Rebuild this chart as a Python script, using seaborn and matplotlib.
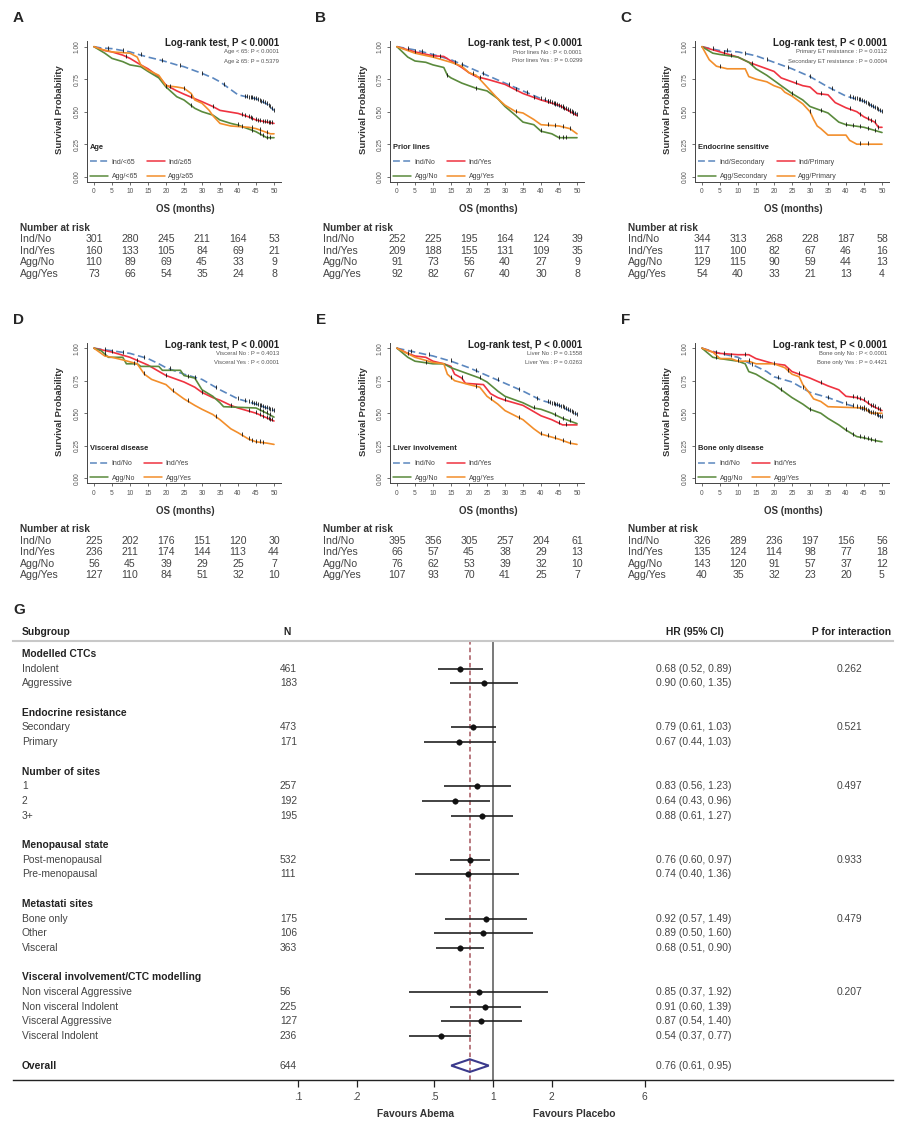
import numpy as np
import matplotlib.pyplot as plt
import seaborn as sns
from matplotlib.lines import Line2D
from matplotlib.patches import Polygon
from matplotlib.transforms import blended_transform_factory

# ---------------- KM curves (months, survival) ----------------
km_A = {
    "Ind/<65": ([0, 2, 5, 8, 10, 13, 15, 18, 20, 23, 25, 28, 30, 33, 35, 38, 40, 43, 45, 48, 50],
                [1, .99, .985, .97, .96, .935, .92, .90, .885, .86, .846, .815, .795, .76, .73, .67, .63, .61, .60, .56, .51]),
    "Ind/≥65": ([0, 3, 5, 8, 10, 13, 15, 18, 20, 23, 25, 28, 30, 33, 35, 40, 43, 45, 50],
                [1, .97, .96, .935, .91, .86, .83, .77, .705, .66, .635, .60, .577, .54, .51, .487, .46, .436, .41]),
    "Agg/<65": ([0, 3, 5, 8, 10, 13, 15, 18, 20, 23, 25, 28, 30, 33, 35, 38, 40, 45, 48, 50],
                [1, .95, .91, .885, .86, .846, .81, .76, .69, .615, .59, .526, .50, .474, .436, .41, .397, .346, .30, .30]),
    "Agg/≥65": ([0, 2, 5, 10, 12, 13, 15, 18, 20, 23, 25, 27, 28, 30, 32, 33, 35, 38, 43, 45, 49, 50],
                [1, .98, .96, .95, .92, .86, .82, .78, .70, .69, .68, .64, .59, .565, .51, .47, .41, .39, .38, .37, .33, .33]),
}
km_B = {
    "Ind/No": ([0, 5, 10, 15, 20, 25, 30, 35, 40, 45, 50],
               [1, .975, .94, .90, .84, .78, .72, .66, .60, .545, .48]),
    "Ind/Yes": ([0, 5, 10, 13, 15, 18, 20, 22, 25, 30, 35, 40, 45, 50],
                [1, .96, .93, .925, .89, .84, .80, .77, .75, .71, .64, .59, .55, .47]),
    "Agg/No": ([0, 3, 5, 8, 10, 13, 14, 15, 18, 20, 22, 25, 28, 30, 33, 35, 38, 40, 43, 45, 50],
               [1, .92, .89, .88, .86, .84, .78, .76, .72, .70, .68, .66, .60, .54, .47, .42, .40, .35, .33, .30, .30]),
    "Agg/Yes": ([0, 5, 10, 15, 18, 20, 22, 24, 26, 28, 30, 33, 35, 38, 40, 45, 48, 50],
                [1, .95, .92, .88, .85, .80, .78, .72, .66, .60, .55, .50, .49, .44, .40, .39, .37, .33]),
}
km_C = {
    "Ind/Secondary": ([0, 5, 10, 15, 20, 25, 30, 35, 40, 45, 50],
                      [1, .97, .96, .93, .88, .83, .77, .69, .62, .58, .50]),
    "Ind/Primary": ([0, 5, 10, 13, 15, 18, 20, 22, 25, 28, 30, 32, 35, 37, 40, 43, 45, 48, 49, 50],
                    [1, .96, .92, .88, .86, .83, .81, .76, .73, .70, .69, .64, .63, .57, .53, .50, .46, .42, .38, .38]),
    "Agg/Secondary": ([0, 3, 5, 10, 13, 15, 18, 20, 22, 25, 28, 30, 33, 35, 38, 40, 45, 50],
                      [1, .95, .94, .92, .88, .83, .78, .74, .70, .64, .59, .54, .51, .49, .42, .40, .38, .34]),
    "Agg/Primary": ([0, 2, 4, 7, 12, 13, 15, 18, 20, 22, 23, 25, 28, 30, 31, 32, 33, 35, 40, 41, 43, 50],
                    [1, .90, .85, .83, .83, .77, .75, .73, .70, .68, .65, .62, .56, .50, .44, .39, .37, .32, .32, .28, .25, .25]),
}
km_D = {
    "Ind/No": ([0, 5, 10, 15, 18, 20, 25, 30, 35, 40, 45, 50],
               [1, .98, .96, .92, .88, .85, .80, .76, .68, .61, .57, .52]),
    "Ind/Yes": ([0, 5, 10, 15, 20, 25, 28, 30, 33, 35, 38, 40, 45, 50],
                [1, .97, .93, .87, .79, .74, .70, .66, .62, .60, .56, .54, .50, .44]),
    "Agg/No": ([0, 2, 4, 8, 9, 12, 13, 18, 19, 24, 25, 28, 30, 33, 35, 36, 45, 48, 50],
               [1, .98, .93, .93, .88, .88, .86, .86, .83, .83, .79, .77, .68, .63, .58, .55, .54, .50, .47]),
    "Agg/Yes": ([0, 3, 5, 8, 12, 14, 16, 20, 22, 25, 28, 30, 33, 35, 38, 40, 43, 45, 48, 50],
                [1, .94, .93, .91, .88, .80, .76, .72, .67, .61, .56, .53, .49, .45, .38, .35, .30, .28, .27, .26]),
}
km_E = {
    "Ind/No": ([0, 5, 10, 15, 20, 25, 30, 35, 40, 45, 50],
               [1, .97, .94, .90, .85, .79, .73, .67, .60, .56, .49]),
    "Ind/Yes": ([0, 3, 5, 8, 10, 13, 15, 16, 18, 19, 24, 26, 28, 30, 35, 40, 43, 46, 50],
                [1, .96, .94, .93, .90, .88, .86, .80, .77, .73, .72, .65, .62, .60, .56, .48, .45, .41, .41]),
    "Agg/No": ([0, 3, 5, 10, 13, 15, 20, 23, 25, 28, 30, 35, 38, 40, 43, 46, 50],
               [1, .93, .90, .88, .88, .85, .80, .77, .74, .67, .63, .58, .54, .53, .50, .46, .42]),
    "Agg/Yes": ([0, 5, 10, 13, 14, 16, 20, 23, 25, 28, 30, 35, 38, 40, 45, 48, 50],
                [1, .93, .89, .88, .80, .75, .72, .70, .63, .57, .52, .45, .38, .34, .30, .27, .26]),
}
km_F = {
    "Ind/No": ([0, 5, 10, 12, 15, 18, 20, 25, 30, 35, 40, 45, 50],
               [1, .96, .93, .90, .86, .82, .78, .74, .66, .62, .57, .53, .47]),
    "Ind/Yes": ([0, 3, 5, 10, 13, 15, 20, 23, 25, 30, 35, 38, 40, 43, 45, 47, 50],
                [1, .97, .96, .95, .95, .92, .88, .87, .82, .77, .71, .68, .63, .62, .60, .56, .52]),
    "Agg/No": ([0, 3, 5, 10, 12, 13, 15, 18, 20, 25, 28, 30, 33, 35, 38, 40, 43, 45, 48, 50],
               [1, .93, .92, .90, .88, .82, .80, .75, .72, .62, .57, .53, .50, .46, .41, .37, .32, .31, .29, .28]),
    "Agg/Yes": ([0, 3, 5, 8, 10, 13, 15, 20, 23, 25, 27, 28, 30, 31, 33, 35, 45, 47, 50],
                [1, .97, .92, .92, .90, .90, .88, .88, .85, .80, .78, .72, .65, .61, .59, .55, .54, .50, .50]),
}

# censoring ticks (months), one list per curve in the same order as above
cens_A = [[4, 8, 13, 19, 24, 30, 36, 42, 42.5, 43, 43.5, 44, 44.5, 45, 45.5, 46, 46.5, 47, 47.5, 48, 48.5, 49, 49.5, 50],
          [9, 21, 27, 33, 41, 42, 43, 43.5, 44, 45, 45.5, 46, 47, 47.5, 48, 48.5, 49, 49.5],
          [20, 27, 40, 44, 46, 47, 48, 49],
          [25, 41, 44, 46, 48]]
cens_B = [[3, 7, 12, 18, 24, 31, 36, 40, 41, 42, 42.5, 43, 43.5, 44, 44.5, 45, 45.5, 46, 46.5, 47, 47.5, 48, 48.5, 49, 49.5, 50],
          [5, 10, 16, 23, 33, 38, 42, 44, 46, 48, 49],
          [14, 22, 40, 45, 46, 47],
          [21, 33, 42, 44, 46, 48]]
cens_C = [[3, 7, 12, 18, 24, 30, 36, 41, 42, 42.5, 43, 43.5, 44, 44.5, 45, 45.5, 46, 46.5, 47, 47.5, 48, 48.5, 49, 49.5, 50],
          [6, 14, 26, 33, 41, 44, 46, 47, 48, 49],
          [8, 25, 33, 40, 42, 44, 46, 48],
          [5, 30, 44, 46]]
cens_D = [[3, 8, 14, 21, 28, 34, 40, 42, 43, 44, 44.5, 45, 45.5, 46, 46.5, 47, 47.5, 48, 48.5, 49, 49.5, 50],
          [5, 12, 20, 30, 38, 43, 45, 46, 47, 48, 48.5, 49, 49.5],
          [3, 11, 26, 46, 47, 48, 49],
          [14, 22, 26, 34, 41, 43, 44, 45, 46, 47]]
cens_E = [[4, 9, 15, 22, 28, 34, 39, 42, 42.5, 43, 43.5, 44, 44.5, 45, 45.5, 46, 46.5, 47, 47.5, 48, 48.5, 49, 49.5, 50],
          [3, 18, 30, 45, 47],
          [8, 23, 38, 44, 46, 48],
          [15, 22, 26, 34, 40, 42, 44, 46, 48]]
cens_F = [[4, 8, 14, 21, 28, 35, 40, 42, 43, 44, 44.5, 45, 45.5, 46, 46.5, 47, 47.5, 48, 48.5, 49, 49.5, 50],
          [6, 12, 20, 27, 33, 42, 43, 44, 45, 46, 47, 47.5, 48, 49, 49.5],
          [4, 10, 22, 30, 40, 42, 44, 45, 46, 47, 48],
          [13, 24, 45]]

legend_titles = ["Age", "Prior lines", "Endocrine sensitive", "Visceral disease", "Liver involvement", "Bone only disease"]
sub_tests = [("Age < 65: P < 0.0001", "Age ≥ 65: P = 0.5379"),
             ("Prior lines No : P < 0.0001", "Prior lines Yes : P = 0.0299"),
             ("Primary ET resistance : P = 0.0112", "Secondary ET resistance : P = 0.0004"),
             ("Visceral No : P = 0.4013", "Visceral Yes : P < 0.0001"),
             ("Liver No : P = 0.1558", "Liver Yes : P = 0.0263"),
             ("Bone only No : P < 0.0001", "Bone only Yes : P = 0.4421")]

risk_months = [0, 10, 20, 30, 40, 50]
risk_rows = ["Ind/No", "Ind/Yes", "Agg/No", "Agg/Yes"]
risk_A = [[301, 280, 245, 211, 164, 53], [160, 133, 105, 84, 69, 21], [110, 89, 69, 45, 33, 9], [73, 66, 54, 35, 24, 8]]
risk_B = [[252, 225, 195, 164, 124, 39], [209, 188, 155, 131, 109, 35], [91, 73, 56, 40, 27, 9], [92, 82, 67, 40, 30, 8]]
risk_C = [[344, 313, 268, 228, 187, 58], [117, 100, 82, 67, 46, 16], [129, 115, 90, 59, 44, 13], [54, 40, 33, 21, 13, 4]]
risk_D = [[225, 202, 176, 151, 120, 30], [236, 211, 174, 144, 113, 44], [56, 45, 39, 29, 25, 7], [127, 110, 84, 51, 32, 10]]
risk_E = [[395, 356, 305, 257, 204, 61], [66, 57, 45, 38, 29, 13], [76, 62, 53, 39, 32, 10], [107, 93, 70, 41, 25, 7]]
risk_F = [[326, 289, 236, 197, 156, 56], [135, 124, 114, 98, 77, 18], [143, 120, 91, 57, 37, 12], [40, 35, 32, 23, 20, 5]]

# ---------------- forest plot data ----------------
group_names = ["Modelled CTCs", "Endocrine resistance", "Number of sites", "Menopausal state",
               "Metastati sites", "Visceral involvement/CTC modelling"]
sub_names = [["Indolent", "Aggressive"], ["Secondary", "Primary"], ["1", "2", "3+"],
             ["Post-menopausal", "Pre-menopausal"], ["Bone only", "Other", "Visceral"],
             ["Non visceral Aggressive", "Non visceral Indolent", "Visceral Aggressive", "Visceral Indolent"]]
sub_n = [[461, 183], [473, 171], [257, 192, 195], [532, 111], [175, 106, 363], [56, 225, 127, 236]]
sub_hr = [[0.68, 0.90], [0.79, 0.67], [0.83, 0.64, 0.88], [0.76, 0.74], [0.92, 0.89, 0.68], [0.85, 0.91, 0.87, 0.54]]
sub_lo = [[0.52, 0.60], [0.61, 0.44], [0.56, 0.43, 0.61], [0.60, 0.40], [0.57, 0.50, 0.51], [0.37, 0.60, 0.54, 0.37]]
sub_hi = [[0.89, 1.35], [1.03, 1.03], [1.23, 0.96, 1.27], [0.97, 1.36], [1.49, 1.60, 0.90], [1.92, 1.39, 1.40, 0.77]]
p_interaction = ["0.262", "0.521", "0.497", "0.933", "0.479", "0.207"]
overall_n, overall_hr, overall_lo, overall_hi = 644, 0.76, 0.61, 0.95
hr_ticks = [0.1, 0.2, 0.5, 1, 2, 6]
hr_ticklabels = [".1", ".2", ".5", "1", "2", "6"]

# ---------------- style ----------------
sns.set_theme(style="ticks")
plt.rcParams['font.family'] = ['Liberation Sans', 'DejaVu Sans']

W, H = 915, 1130
fig = plt.figure(figsize=(W / 100, H / 100), dpi=100)


def fx(px):
    return px / W


def fy(py):
    return 1 - py / H


curve_colors = ["#5b87bf", "#ef3340", "#5a8a3c", "#f28e2b"]
curve_styles = [(0, (4.5, 2.2)), "-", "-", "-"]
panels = [("A", km_A, cens_A, risk_A), ("B", km_B, cens_B, risk_B), ("C", km_C, cens_C, risk_C),
          ("D", km_D, cens_D, risk_D), ("E", km_E, cens_E, risk_E), ("F", km_F, cens_F, risk_F)]
col_x0 = [94, 397, 702]      # pixel position of month 0
row_off = [0, 301.5]

for i, (letter, km, cens, risk) in enumerate(panels):
    x0 = col_x0[i % 3]
    yo = row_off[i // 3]
    top1 = 46.7 + yo          # pixel of survival 1.00
    ax = fig.add_axes([fx(x0 - 7.2), fy(top1 + 135.2), 194.4 / W, 140.4 / H])

    handles = []
    for k, (lab, (t, s)) in enumerate(km.items()):
        sns.lineplot(x=t, y=s, ax=ax, color=curve_colors[k], linestyle=curve_styles[k],
                     lw=1.2, estimator=None, sort=False, zorder=2 + k * 0.1)
        ct = np.array(cens[k])
        ax.plot(ct, np.interp(ct, t, s) + 0.006, linestyle="none", marker="|",
                ms=2.4, mew=0.6, color="#111111", zorder=5)
        handles.append(Line2D([], [], color=curve_colors[k], linestyle=curve_styles[k], lw=1.1, label=lab))

    ax.set_xlim(-2, 52)
    ax.set_ylim(-0.04, 1.04)
    ax.set_xticks(range(0, 51, 5))
    ax.set_yticks([0, 0.25, 0.5, 0.75, 1.0])
    ax.set_yticklabels(["0.00", "0.25", "0.50", "0.75", "1.00"])
    ax.set_xlabel("")
    ax.set_ylabel("")
    sns.despine(ax=ax)
    for sp in ["left", "bottom"]:
        ax.spines[sp].set_color("#444444")
        ax.spines[sp].set_linewidth(0.7)
    ax.tick_params(labelsize=4.8, colors="#555555", length=2.5, width=0.6, pad=2)
    plt.setp(ax.get_yticklabels(), rotation=90, va="center")

    leg = ax.legend(handles=[handles[0], handles[2], handles[1], handles[3]], ncol=2,
                    loc="upper left", bbox_to_anchor=(fx(x0 - 4), fy(144 + yo)),
                    bbox_transform=fig.transFigure, frameon=False, fontsize=5,
                    title=legend_titles[i], title_fontproperties={"weight": "bold", "size": 5.4},
                    alignment="left", handlelength=2.6, handletextpad=0.5, columnspacing=1.3,
                    labelspacing=1.1, borderpad=0, borderaxespad=0)
    for txt in leg.get_texts():
        txt.set_color("#444444")

    fig.text(fx(x0 - 76), fy(18 + yo), letter, fontsize=11, fontweight="bold", ha="center", va="center")
    fig.text(fx(x0 + 185), fy(43 + yo), "Log-rank test, P < 0.0001", fontsize=7, fontweight="bold",
             ha="right", va="center", color="#222222")
    fig.text(fx(x0 + 185), fy(52 + yo), sub_tests[i][0], fontsize=4.2, ha="right", va="center", color="#555555")
    fig.text(fx(x0 + 185), fy(61 + yo), sub_tests[i][1], fontsize=4.2, ha="right", va="center", color="#555555")
    fig.text(fx(x0 - 34), fy(110 + yo), "Survival Probability", fontsize=6.8, fontweight="bold",
             rotation=90, ha="center", va="center", color="#333333")
    fig.text(fx(x0 + 91), fy(209 + yo), "OS (months)", fontsize=7, fontweight="bold",
             ha="center", va="center", color="#333333")

    # number at risk table
    tr = blended_transform_factory(ax.transData, fig.transFigure)
    fig.text(fx(x0 - 74), fy(228 + yo), "Number at risk", fontsize=7.2, fontweight="bold",
             ha="left", va="center", color="#333333")
    for r, row_lab in enumerate(risk_rows):
        ry = fy(239.5 + r * 11.4 + yo)
        fig.text(fx(x0 - 74), ry, row_lab, fontsize=7.6, ha="left", va="center", color="#444444")
        for m, val in zip(risk_months, risk[r]):
            ax.text(m, ry, str(val), transform=tr, fontsize=7.6, ha="center", va="center", color="#444444")

# ---------------- forest plot ----------------
axf = fig.add_axes([fx(13), fy(1080), 880 / W, (1080 - 641) / H])
axf.set_xscale("log")
axf.set_xlim(0.00345, 112.5)
axf.set_ylim(28.98, -0.884)

tf = blended_transform_factory(axf.transAxes, axf.transData)
pos = 0
pts_x, pts_y = [], []
for g, gname in enumerate(group_names):
    axf.text(0.0102, pos, gname, transform=tf, fontsize=7.4, fontweight="bold", va="center", color="#222222")
    for j, name in enumerate(sub_names[g]):
        y = pos + 1 + j
        axf.text(0.0102, y, name, transform=tf, fontsize=7.4, va="center", color="#444444")
        axf.text(0.3034, y, str(sub_n[g][j]), transform=tf, fontsize=7.4, va="center", color="#444444")
        axf.text(0.7307, y, f"{sub_hr[g][j]:.2f} ({sub_lo[g][j]:.2f}, {sub_hi[g][j]:.2f})",
                 transform=tf, fontsize=7.4, va="center", color="#444444")
        axf.hlines(y, sub_lo[g][j], sub_hi[g][j], color="#222222", lw=1.2, zorder=3)
        pts_x.append(sub_hr[g][j])
        pts_y.append(y)
    axf.text(0.9364, pos + 1, p_interaction[g], transform=tf, fontsize=7.4, va="center", color="#444444")
    pos += len(sub_names[g]) + 2

sns.scatterplot(x=pts_x, y=pts_y, ax=axf, marker="o", s=16, color="#111111", edgecolor="#111111", zorder=4)

axf.text(0.0102, pos, "Overall", transform=tf, fontsize=7.4, fontweight="bold", va="center", color="#222222")
axf.text(0.3034, pos, str(overall_n), transform=tf, fontsize=7.4, va="center", color="#444444")
axf.text(0.7307, pos, f"{overall_hr:.2f} ({overall_lo:.2f}, {overall_hi:.2f})", transform=tf,
         fontsize=7.4, va="center", color="#444444")
axf.add_patch(Polygon([(overall_lo, pos), (overall_hr, pos - 0.43), (overall_hi, pos), (overall_hr, pos + 0.43)],
                      closed=True, fill=False, edgecolor="#3b3a8c", lw=1.5, zorder=4))

axf.axvline(1, color="#555555", lw=1.1, zorder=1)
axf.axvline(overall_hr, color="#a6555c", lw=1.1, linestyle=(0, (3, 2)), zorder=1)

# headers
axf.text(0.0102, -1.5, "Subgroup", transform=tf, fontsize=7.4, fontweight="bold", va="center", color="#222222")
axf.text(0.307, -1.5, "N", transform=tf, fontsize=7.4, fontweight="bold", va="center", color="#222222")
axf.text(0.775, -1.5, "HR (95% CI)", transform=tf, fontsize=7.4, fontweight="bold", va="center",
         ha="center", color="#222222")
axf.text(0.9534, -1.5, "P for interaction", transform=tf, fontsize=7.4, fontweight="bold", va="center",
         ha="center", color="#222222")

axf.set_xticks(hr_ticks)
axf.set_xticklabels(hr_ticklabels)
axf.minorticks_off()
axf.set_yticks([])
axf.set_xlabel("")
axf.set_ylabel("")
axf.tick_params(axis="x", direction="out", length=5, width=0.9, colors="#222222", labelsize=7.4,
                labelcolor="#444444", pad=4)
axf.spines["left"].set_visible(False)
axf.spines["right"].set_visible(False)
axf.spines["top"].set_color("#c8c8c8")
axf.spines["top"].set_linewidth(1.5)
axf.spines["bottom"].set_color("#222222")
axf.spines["bottom"].set_linewidth(1.0)

fig.text(fx(19), fy(610), "G", fontsize=11, fontweight="bold", ha="center", va="center")
fig.text(fx(416), fy(1114), "Favours Abema", fontsize=7.4, fontweight="bold", ha="center", va="center", color="#333333")
fig.text(fx(574), fy(1114), "Favours Placebo", fontsize=7.4, fontweight="bold", ha="center", va="center", color="#333333")

fig.savefig("out.png", dpi=100)
